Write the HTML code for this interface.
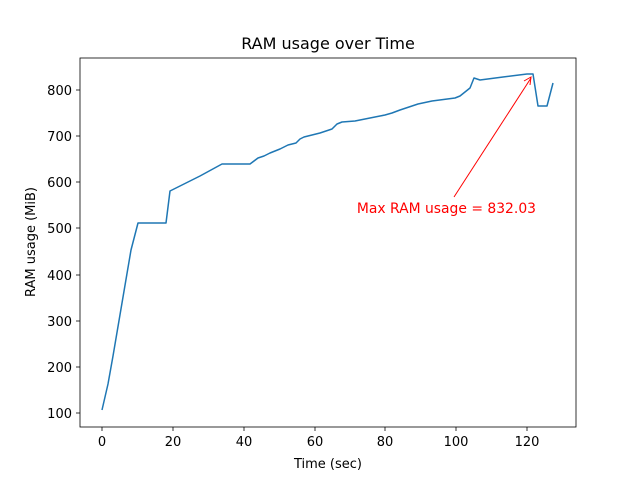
<!DOCTYPE html>
<html><head><style>body{margin:0;background:#fff}svg{display:block}</style></head><body>
<svg width="640" height="480" xmlns="http://www.w3.org/2000/svg" font-family="DejaVu Sans, Liberation Sans, sans-serif">
<rect width="640" height="480" fill="#fff"/>
<polyline fill="none" stroke="#1f77b4" stroke-width="1.5" stroke-linejoin="round" points="102,410 108,384 113,356 131,250 138,223 166,223 170,191 200,176 222,164 250,164 258,158 264,156 270,153 280,149 288,145 296,143 300,139 304,137 320,133 332,129 337,124 342,122 355,121 360,120 380,116 385,115 392,113 400,110 418,104 432,101 455,98 460,96 470,88 474,78 480,80 503,77 527,74 533,74 538,106 547,106 553,83"/>
<rect x="80" y="58" width="496" height="369" fill="none" stroke="#000" stroke-width="0.8"/>
<g stroke="#000" stroke-width="0.8">
<line x1="102" y1="427" x2="102" y2="431"/><line x1="173" y1="427" x2="173" y2="431"/><line x1="244" y1="427" x2="244" y2="431"/><line x1="315" y1="427" x2="315" y2="431"/><line x1="385" y1="427" x2="385" y2="431"/><line x1="456" y1="427" x2="456" y2="431"/><line x1="527" y1="427" x2="527" y2="431"/>
<line x1="76" y1="413" x2="80" y2="413"/><line x1="76" y1="367" x2="80" y2="367"/><line x1="76" y1="321" x2="80" y2="321"/><line x1="76" y1="275" x2="80" y2="275"/><line x1="76" y1="228" x2="80" y2="228"/><line x1="76" y1="182" x2="80" y2="182"/><line x1="76" y1="136" x2="80" y2="136"/><line x1="76" y1="90" x2="80" y2="90"/>
</g>
<g font-size="13" fill="#000" text-anchor="middle">
<text x="102" y="446">0</text><text x="173" y="446">20</text><text x="244" y="446">40</text><text x="315" y="446">60</text><text x="385" y="446">80</text><text x="456" y="446">100</text><text x="527" y="446">120</text>
</g>
<g font-size="13" fill="#000" text-anchor="end">
<text x="72" y="418">100</text><text x="72" y="372">200</text><text x="72" y="326">300</text><text x="72" y="280">400</text><text x="72" y="233">500</text><text x="72" y="187">600</text><text x="72" y="141">700</text><text x="72" y="95">800</text>
</g>
<text x="328" y="468" font-size="13" text-anchor="middle">Time (sec)</text>
<text transform="translate(35,242) rotate(-90)" font-size="13" text-anchor="middle">RAM usage (MiB)</text>
<text x="328" y="49" font-size="16" text-anchor="middle">RAM usage over Time</text>
<line x1="454" y1="197" x2="531" y2="78" stroke="red" stroke-width="1"/>
<polyline points="524,81 531,77 530,85" fill="none" stroke="red" stroke-width="1"/>
<text x="536" y="213" font-size="13.9" fill="red" text-anchor="end">Max RAM usage = 832.03</text>
</svg>
</body></html>
